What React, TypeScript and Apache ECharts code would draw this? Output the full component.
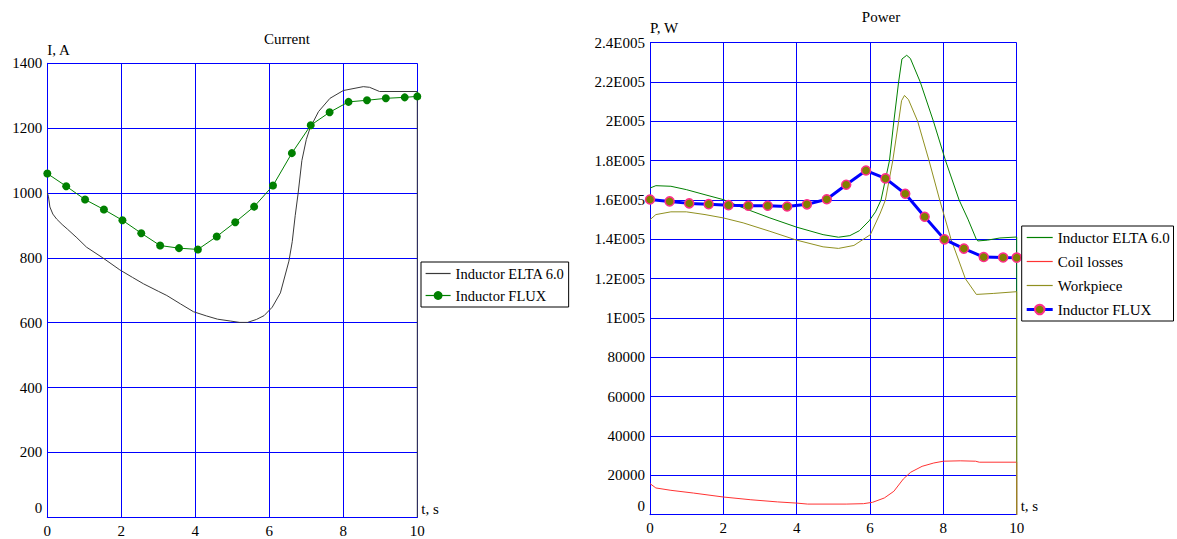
import React, { useEffect, useRef } from "react";
import * as echarts from "echarts";

const FONT = "'Liberation Serif', 'Times New Roman', serif";

// ---- Current chart ----
const tEltaI = [0, 0.03, 0.07, 0.15, 0.25, 0.4, 0.55, 0.8, 1.06, 1.5, 1.96, 2.3, 2.6, 3.0, 3.23, 3.6, 3.95, 4.3, 4.6, 4.96, 5.2, 5.41, 5.65, 5.86, 6.08, 6.3, 6.53, 6.62, 6.7, 6.78, 6.88, 7.0, 7.1, 7.33, 7.64, 8.0, 8.54, 8.71, 8.98, 10, 10];
const iElta = [1000, 990, 957, 935, 920, 903, 888, 862, 833, 800, 763, 740, 720, 697, 684, 658, 634, 621, 611, 605, 601, 601, 610, 622, 648, 692, 790, 850, 930, 1000, 1100, 1165, 1200, 1251, 1292, 1316, 1328, 1326, 1313, 1313, 0];

const tFluxI = [0, 0.51, 1.02, 1.53, 2.03, 2.54, 3.05, 3.56, 4.07, 4.58, 5.08, 5.59, 6.1, 6.61, 7.12, 7.63, 8.14, 8.64, 9.15, 9.66, 10];
const iFlux = [1060, 1021, 980, 949, 916, 876, 838, 830, 826, 866, 910, 958, 1023, 1123, 1209, 1249, 1281, 1286, 1292, 1295, 1298];

// ---- Power chart ----
const tEltaP = [0, 0.16, 0.57, 0.99, 1.5, 2.0, 2.54, 3.27, 4.0, 4.72, 5.14, 5.45, 5.71, 5.98, 6.15, 6.3, 6.53, 6.65, 6.78, 6.87, 7.0, 7.1, 7.37, 7.73, 8.06, 8.43, 8.67, 8.9, 8.94, 9.2, 9.54, 10, 10];
const pElta = [166100, 167300, 167000, 165300, 162700, 160200, 156000, 150900, 146200, 142400, 141100, 141900, 144400, 149500, 154000, 160000, 180000, 200000, 220000, 231700, 233600, 232000, 220000, 200000, 180000, 160000, 150300, 140000, 139200, 139600, 140700, 141200, 0];

const tCoil = [0, 0.16, 0.57, 1.19, 2.0, 2.75, 3.48, 4.0, 4.3, 5.35, 5.82, 6.07, 6.39, 6.65, 6.91, 7.11, 7.42, 7.74, 8.0, 8.46, 8.88, 8.98, 10, 10];
const pCoil = [15800, 13600, 12400, 11000, 9000, 7600, 6500, 5900, 5400, 5400, 5600, 6300, 8500, 11900, 18200, 21600, 24600, 26300, 27200, 27400, 27200, 26700, 26700, 0];

const tWork = [0, 0.16, 0.57, 0.99, 1.5, 2.0, 2.54, 3.27, 4.0, 4.72, 5.14, 5.56, 6.01, 6.28, 6.42, 6.62, 6.78, 6.86, 6.94, 7.05, 7.3, 7.61, 7.9, 8.21, 8.6, 8.9, 9.36, 10, 10];
const pWork = [150000, 152600, 154000, 154000, 152600, 150900, 148400, 144100, 139600, 136200, 135400, 136900, 142400, 153400, 160000, 180000, 200000, 210500, 213200, 211000, 200000, 180000, 160000, 140000, 120000, 112000, 112500, 113400, 0];

const tFluxP = [0, 0.535, 1.07, 1.6, 2.14, 2.68, 3.21, 3.74, 4.28, 4.82, 5.35, 5.89, 6.42, 6.96, 7.49, 8.03, 8.56, 9.1, 9.63, 10];
const pFlux = [160300, 159300, 158300, 157900, 157400, 157100, 157100, 156700, 157800, 160400, 167800, 175000, 171000, 163200, 151500, 140000, 135300, 131000, 130800, 130700];

const currentTicks = { min: 0, max: 1400, interval: 200 };
const powerTicks = { min: 0, max: 240000, interval: 20000 };
const timeTicks = { min: 0, max: 10, interval: 2 };

const PREFIX = "Power: ";

const zip = (xs: number[], ys: number[]) => xs.map((x, i) => [x, ys[i]]);

const label15 = { fontSize: 15, fontFamily: FONT, color: "#000" };

function xAxis(gridIndex: number, margin: number) {
  return {
    gridIndex,
    type: "value",
    ...timeTicks,
    name: "t, s",
    nameLocation: "end",
    nameGap: 4,
    nameTextStyle: { ...label15, align: "left", verticalAlign: "bottom", padding: [0, 0, 1, 0] },
    axisLine: { show: true, lineStyle: { color: "#0000ff", width: 1 } },
    axisTick: { show: false },
    axisLabel: { ...label15, margin },
    splitLine: { show: true, lineStyle: { color: "#0000ff", width: 1 } },
  };
}

function yAxis(gridIndex: number, ticks: any, name: string, nameGap: number, fmt: (v: number) => string) {
  return {
    gridIndex,
    type: "value",
    ...ticks,
    name,
    nameLocation: "end",
    nameGap,
    nameTextStyle: { ...label15, align: "left", verticalAlign: "bottom" },
    axisLine: { show: true, lineStyle: { color: "#0000ff", width: 1 } },
    axisTick: { show: false },
    axisLabel: {
      ...label15,
      margin: 5,
      formatter: (v: number) => (v === 0 ? "{z|0}" : fmt(v)),
      rich: { z: { ...label15, padding: [0, 0, 18, 0] } },
    },
    splitLine: { show: true, lineStyle: { color: "#0000ff", width: 1 } },
  };
}

const fmtPower = (v: number) => (v >= 100000 ? `${parseFloat((v / 100000).toFixed(1))}E005` : String(v));

export default function App() {
  const ref = useRef<HTMLDivElement>(null);
  useEffect(() => {
    if (!ref.current) return;
    const chart = echarts.init(ref.current, null, { renderer: "svg" });
    const option: any = {
      animation: false,
      backgroundColor: "#fff",
      textStyle: { fontFamily: FONT },
      title: [
        { text: "Current", left: 287, top: 31, textAlign: "center", padding: 0, textStyle: { ...label15, fontWeight: "normal" } },
        { text: "Power", left: 881, top: 9, textAlign: "center", padding: 0, textStyle: { ...label15, fontWeight: "normal" } },
      ],
      grid: [
        { left: 47.3, top: 63.3, width: 370, height: 454 },
        { left: 650, top: 42.7, width: 366.7, height: 472 },
      ],
      xAxis: [xAxis(0, 6), xAxis(1, 6)],
      yAxis: [
        yAxis(0, currentTicks, "I, A", 6, (v) => String(v)),
        yAxis(1, powerTicks, "P, W", 7, fmtPower),
      ],
      legend: [
        {
          data: [{ name: "Inductor ELTA 6.0", itemStyle: { opacity: 0 } }, { name: "Inductor FLUX" }],
          orient: "vertical",
          left: 421,
          top: 262,
          padding: [4, 4, 4, 4],
          itemGap: 7,
          itemWidth: 25,
          itemHeight: 11,
          borderColor: "#000",
          borderWidth: 1,
          backgroundColor: "#fff",
          selectedMode: false,
          lineStyle: { width: 1.2 },
          textStyle: { fontSize: 14.5, fontFamily: FONT, color: "#000" },
        },
        {
          data: [
            { name: PREFIX + "Inductor ELTA 6.0", itemStyle: { opacity: 0 } },
            { name: PREFIX + "Coil losses", itemStyle: { opacity: 0 } },
            { name: PREFIX + "Workpiece", itemStyle: { opacity: 0 } },
            { name: PREFIX + "Inductor FLUX", lineStyle: { width: 3 } },
          ],
          formatter: (n: string) => n.replace(PREFIX, ""),
          orient: "vertical",
          left: 1021.7,
          top: 226,
          padding: [4, 3, 4, 3.5],
          itemGap: 9,
          itemWidth: 26,
          itemHeight: 12,
          borderColor: "#000",
          borderWidth: 1,
          backgroundColor: "#fff",
          selectedMode: false,
          lineStyle: { width: 1.2 },
          textStyle: { fontSize: 15, fontFamily: FONT, color: "#000" },
        },
      ],
      series: [
        {
          name: "Inductor ELTA 6.0",
          type: "line",
          xAxisIndex: 0,
          yAxisIndex: 0,
          data: zip(tEltaI, iElta),
          symbol: "none",
          lineStyle: { color: "#3a3a3a", width: 1 },
          itemStyle: { color: "#3a3a3a" },
        },
        {
          name: "Inductor FLUX",
          type: "line",
          xAxisIndex: 0,
          yAxisIndex: 0,
          data: zip(tFluxI, iFlux),
          symbol: "circle",
          symbolSize: 8,
          lineStyle: { color: "#008000", width: 1 },
          itemStyle: { color: "#008000" },
        },
        {
          name: PREFIX + "Inductor ELTA 6.0",
          type: "line",
          xAxisIndex: 1,
          yAxisIndex: 1,
          data: zip(tEltaP, pElta),
          symbol: "none",
          lineStyle: { color: "#008000", width: 1 },
          itemStyle: { color: "#008000" },
        },
        {
          name: PREFIX + "Coil losses",
          type: "line",
          xAxisIndex: 1,
          yAxisIndex: 1,
          data: zip(tCoil, pCoil),
          symbol: "none",
          lineStyle: { color: "#ff3333", width: 1 },
          itemStyle: { color: "#ff3333" },
        },
        {
          name: PREFIX + "Workpiece",
          type: "line",
          xAxisIndex: 1,
          yAxisIndex: 1,
          data: zip(tWork, pWork),
          symbol: "none",
          lineStyle: { color: "#909020", width: 1 },
          itemStyle: { color: "#909020" },
        },
        {
          name: PREFIX + "Inductor FLUX",
          type: "line",
          xAxisIndex: 1,
          yAxisIndex: 1,
          data: zip(tFluxP, pFlux),
          symbol: "circle",
          symbolSize: 9,
          lineStyle: { color: "#0000ff", width: 3 },
          itemStyle: { color: "#808000", borderColor: "#ff2d8a", borderWidth: 1.5 },
        },
      ],
    };
    chart.setOption(option);
    return () => chart.dispose();
  }, []);
  return <div ref={ref} style={{ position: "fixed", left: 0, top: 0, width: 1177, height: 539 }} />;
}
